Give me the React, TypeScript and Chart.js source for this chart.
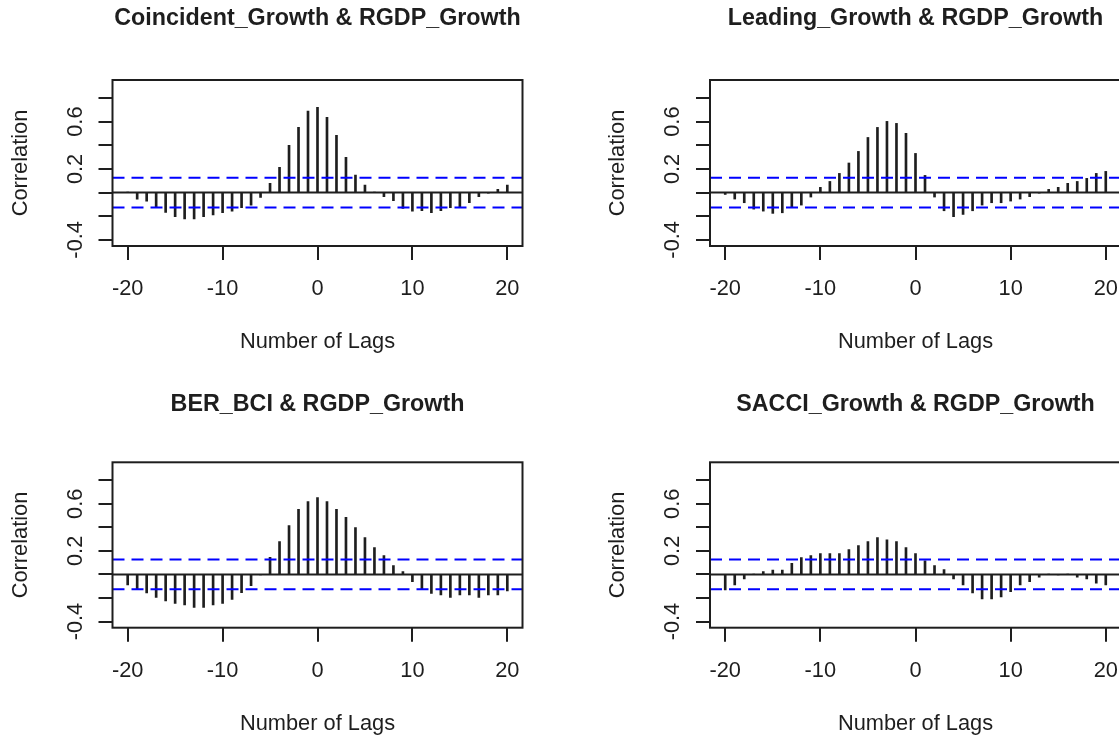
import React, { useEffect, useRef } from "react";
import { Chart, registerables } from "chart.js";

Chart.register(...registerables);

// ---- data ----
const LAGS = [
  -20, -19, -18, -17, -16, -15, -14, -13, -12, -11, -10, -9, -8, -7, -6, -5, -4, -3, -2, -1,
  0, 1, 2, 3, 4, 5, 6, 7, 8, 9, 10, 11, 12, 13, 14, 15, 16, 17, 18, 19, 20,
];

const COINCIDENT = [
  0.004, -0.055, -0.072, -0.12, -0.168, -0.204, -0.224, -0.224, -0.204, -0.19,
  -0.171, -0.157, -0.128, -0.106, -0.041, 0.078, 0.213, 0.399, 0.551, 0.689,
  0.72,
  0.636, 0.484, 0.298, 0.148, 0.063, 0.005, -0.035, -0.069, -0.134, -0.157,
  -0.154, -0.171, -0.154, -0.128, -0.12, -0.086, -0.035, -0.005, 0.027, 0.063,
];

const LEADING = [
  -0.016, -0.055, -0.086, -0.14, -0.157, -0.176, -0.171, -0.128, -0.106, -0.038,
  0.044, 0.094, 0.162, 0.25, 0.348, 0.466, 0.551, 0.602, 0.585, 0.501,
  0.331,
  0.145, -0.038, -0.154, -0.204, -0.185, -0.154, -0.106, -0.086, -0.086, -0.072,
  -0.055, -0.035, -0.005, 0.027, 0.044, 0.078, 0.094, 0.12, 0.162, 0.179,
];

const BER_BCI = [
  -0.089, -0.126, -0.157, -0.194, -0.225, -0.245, -0.259, -0.279, -0.279, -0.259,
  -0.245, -0.211, -0.154, -0.095, -0.005, 0.146, 0.279, 0.415, 0.553, 0.618,
  0.652,
  0.618, 0.553, 0.485, 0.398, 0.313, 0.228, 0.16, 0.075, 0.024, -0.061,
  -0.126, -0.16, -0.174, -0.194, -0.174, -0.174, -0.194, -0.174, -0.174, -0.14,
];

const SACCI = [
  -0.132, -0.089, -0.038, 0.003, 0.024, 0.038, 0.038, 0.095, 0.143, 0.16,
  0.177, 0.177, 0.177, 0.211, 0.245, 0.279, 0.313, 0.293, 0.279, 0.228,
  0.177,
  0.115, 0.075, 0.041, -0.038, -0.089, -0.157, -0.208, -0.208, -0.191, -0.146,
  -0.089, -0.061, -0.024, 0.003, -0.003, 0.003, -0.024, -0.038, -0.075, -0.089,
];

const CI_BOUND = 0.126;
const X_TICKS = [-20, -10, 0, 10, 20];
const Y_TICKS = [-0.4, -0.2, 0, 0.2, 0.4, 0.6, 0.8];
const Y_TICK_LABELS = ["-0.4", "", "", "0.2", "", "0.6", ""];
const X_LIMITS = [-21.6, 21.6];
const Y_LIMITS = [-0.452, 0.952];
const TITLES = [
  "Coincident_Growth & RGDP_Growth",
  "Leading_Growth & RGDP_Growth",
  "BER_BCI & RGDP_Growth",
  "SACCI_Growth & RGDP_Growth",
];
const X_TITLE = "Number of Lags";
const Y_TITLE = "Correlation";

const INK = "#1e1e1e";
const FONT = 'Arimo, "Liberation Sans", Arial, sans-serif';

type PanelProps = {
  title: string;
  values: number[];
  left: number;
  top: number;
  width: number;
  height: number;
  pad: { left: number; right: number; top: number; bottom: number };
  titleGap: number;
};

function Panel(props: PanelProps) {
  const ref = useRef<HTMLCanvasElement | null>(null);
  useEffect(() => {
    const canvas = ref.current;
    if (!canvas) return;
    const decor = {
      id: "rdecor",
      afterDraw(chart: any) {
        const { ctx, chartArea: a } = chart;
        const xs = chart.scales.x;
        const ys = chart.scales.y;
        ctx.save();
        ctx.strokeStyle = INK;
        ctx.lineWidth = 2;
        ctx.strokeRect(a.left, a.top, a.right - a.left, a.bottom - a.top);
        ctx.beginPath();
        X_TICKS.forEach((v) => {
          const px = Math.round(xs.getPixelForValue(v));
          ctx.moveTo(px, a.bottom);
          ctx.lineTo(px, a.bottom + 14);
        });
        Y_TICKS.forEach((v) => {
          const py = Math.round(ys.getPixelForValue(v));
          ctx.moveTo(a.left, py);
          ctx.lineTo(a.left - 14, py);
        });
        ctx.stroke();
        ctx.fillStyle = INK;
        ctx.textAlign = "center";
        ctx.textBaseline = "alphabetic";
        ctx.font = `21.8px ${FONT}`;
        X_TICKS.forEach((v) => {
          ctx.fillText(String(v), xs.getPixelForValue(v), a.bottom + 49);
        });
        ctx.fillText(X_TITLE, (a.left + a.right) / 2, a.bottom + 102);
        Y_TICKS.forEach((v, i) => {
          const lab = Y_TICK_LABELS[i];
          if (!lab) return;
          ctx.save();
          ctx.translate(a.left - 31, ys.getPixelForValue(v));
          ctx.rotate(-Math.PI / 2);
          ctx.fillText(lab, 0, 0);
          ctx.restore();
        });
        ctx.save();
        ctx.translate(a.left - 86, (a.top + a.bottom) / 2);
        ctx.rotate(-Math.PI / 2);
        ctx.fillText(Y_TITLE, 0, 0);
        ctx.restore();
        ctx.font = `bold 23.3px ${FONT}`;
        ctx.fillText(props.title, (a.left + a.right) / 2, a.top - props.titleGap);
        ctx.restore();
      },
    };
    const chart = new Chart(canvas, {
      type: "bar",
      data: {
        datasets: [
          {
            type: "bar",
            data: LAGS.map((l, i) => ({ x: l, y: props.values[i] })),
            backgroundColor: INK,
            borderWidth: 0,
            barThickness: 2,
            order: 3,
          } as any,
          {
            type: "line",
            data: [
              { x: X_LIMITS[0], y: 0 },
              { x: X_LIMITS[1], y: 0 },
            ],
            borderColor: INK,
            borderWidth: 2,
            pointRadius: 0,
            fill: false,
            order: 2,
          } as any,
          {
            type: "line",
            data: [
              { x: X_LIMITS[0], y: CI_BOUND },
              { x: X_LIMITS[1], y: CI_BOUND },
            ],
            borderColor: "#0000ff",
            borderWidth: 2,
            borderDash: [12, 7],
            pointRadius: 0,
            fill: false,
            order: 1,
          } as any,
          {
            type: "line",
            data: [
              { x: X_LIMITS[0], y: -CI_BOUND },
              { x: X_LIMITS[1], y: -CI_BOUND },
            ],
            borderColor: "#0000ff",
            borderWidth: 2,
            borderDash: [12, 7],
            pointRadius: 0,
            fill: false,
            order: 1,
          } as any,
        ],
      },
      options: {
        animation: false,
        responsive: false,
        devicePixelRatio: 1,
        layout: { padding: props.pad },
        plugins: {
          legend: { display: false },
          title: { display: false },
          tooltip: { enabled: false },
        },
        scales: {
          x: {
            type: "linear",
            min: X_LIMITS[0],
            max: X_LIMITS[1],
            offset: false,
            grid: { offset: false },
            display: false,
            afterBuildTicks: (s: any) => {
              s.ticks = X_TICKS.map((v) => ({ value: v }));
            },
          },
          y: {
            type: "linear",
            min: Y_LIMITS[0],
            max: Y_LIMITS[1],
            display: false,
            afterBuildTicks: (s: any) => {
              s.ticks = Y_TICKS.map((v) => ({ value: v }));
            },
          },
        },
      } as any,
      plugins: [decor],
    });
    return () => chart.destroy();
  }, []);
  return (
    <canvas
      ref={ref}
      width={props.width}
      height={props.height}
      style={{
        position: "absolute",
        left: props.left,
        top: props.top,
        width: props.width,
        height: props.height,
      }}
    />
  );
}

export default function App() {
  const W_L = 560;
  const W_R = 565;
  const H = 369;
  const padLeftCol = { left: 112.5, right: W_L - 522.5 };
  const padRightCol = { left: 150, right: W_R - 561 };
  const padTopRow = { top: 80, bottom: H - 246 };
  const padBotRow = { top: 462.3 - 369, bottom: H - (627.7 - 369) };
  return (
    <div
      style={{
        position: "absolute",
        left: 0,
        top: 0,
        width: 1119,
        height: 738,
        overflow: "hidden",
        background: "#ffffff",
      }}
    >
      <Panel
        title={TITLES[0]}
        values={COINCIDENT}
        left={0}
        top={0}
        width={W_L}
        height={H}
        pad={{ ...padLeftCol, ...padTopRow }}
        titleGap={55}
      />
      <Panel
        title={TITLES[1]}
        values={LEADING}
        left={560}
        top={0}
        width={W_R}
        height={H}
        pad={{ ...padRightCol, ...padTopRow }}
        titleGap={55}
      />
      <Panel
        title={TITLES[2]}
        values={BER_BCI}
        left={0}
        top={369}
        width={W_L}
        height={H}
        pad={{ ...padLeftCol, ...padBotRow }}
        titleGap={51}
      />
      <Panel
        title={TITLES[3]}
        values={SACCI}
        left={560}
        top={369}
        width={W_R}
        height={H}
        pad={{ ...padRightCol, ...padBotRow }}
        titleGap={51}
      />
    </div>
  );
}
